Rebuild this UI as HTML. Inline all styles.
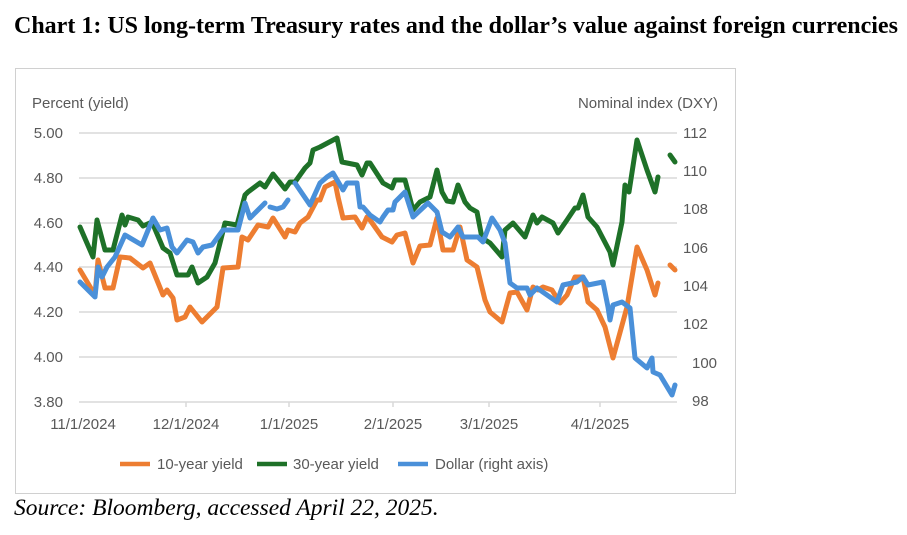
<!DOCTYPE html>
<html><head><meta charset="utf-8"><style>
body{margin:0;background:#fff;width:907px;height:535px;overflow:hidden;position:relative}
.t{position:absolute;left:14px;top:13px;font:bold 24px "Liberation Serif",serif;color:#000;white-space:nowrap}
.s{position:absolute;left:14px;top:495px;font:italic 23.5px "Liberation Serif",serif;color:#000;white-space:nowrap}
.box{position:absolute;left:15px;top:68px;width:719px;height:424px;border:1px solid #d0d0d0}
svg{position:absolute;left:0;top:0}
</style></head><body>
<div class="t">Chart 1: US long-term Treasury rates and the dollar’s value against foreign currencies</div>
<div class="box"></div>
<svg width="907" height="535" font-family="Liberation Sans, sans-serif" font-size="15" fill="#595959">
<g stroke="#d9d9d9" stroke-width="1.5">
<line x1="79" x2="677" y1="133" y2="133"/><line x1="79" x2="677" y1="178" y2="178"/><line x1="79" x2="677" y1="223" y2="223"/><line x1="79" x2="677" y1="267" y2="267"/><line x1="79" x2="677" y1="312" y2="312"/><line x1="79" x2="677" y1="357" y2="357"/><line x1="79" x2="677" y1="402" y2="402"/>
<line x1="186" x2="186" y1="402" y2="407"/><line x1="289" x2="289" y1="402" y2="407"/><line x1="393" x2="393" y1="402" y2="407"/><line x1="489" x2="489" y1="402" y2="407"/><line x1="600" x2="600" y1="402" y2="407"/>
</g>
<text x="32" y="108">Percent (yield)</text>
<text x="718" y="108" text-anchor="end">Nominal index (DXY)</text>
<g text-anchor="end"><text x="63" y="138">5.00</text><text x="63" y="183">4.80</text><text x="63" y="228">4.60</text><text x="63" y="272">4.40</text><text x="63" y="317">4.20</text><text x="63" y="362">4.00</text><text x="63" y="407">3.80</text></g>
<g><text x="683" y="138">112</text><text x="683" y="176">110</text><text x="683" y="214">108</text><text x="683" y="253">106</text><text x="683" y="291">104</text><text x="683" y="329">102</text><text x="692" y="368">100</text><text x="692" y="406">98</text></g>
<g text-anchor="middle"><text x="83" y="429">11/1/2024</text><text x="186" y="429">12/1/2024</text><text x="289" y="429">1/1/2025</text><text x="393" y="429">2/1/2025</text><text x="489" y="429">3/1/2025</text><text x="600" y="429">4/1/2025</text></g>
<g fill="none" stroke-width="5" stroke-linejoin="round" stroke-linecap="round">
<polyline stroke="#ed7d31" points="80,270 95,295 98,260 105,288 113,288 120,257 130,258 143,268 150,263 163,295 167,290 173,298 177,320 185,317 190,307 202,322 217,307 223,268 238,267 242,237 248,240 258,225 268,227 273,218 285,237 288,230 295,232 300,223 308,217 317,200 320,200 325,187 335,182 338,197 343,218 355,217 362,228 367,217 370,220 382,237 392,242 397,235 405,233 413,263 420,246 430,245 437,218 443,250 453,250 460,227 467,260 477,267 485,300 490,312 502,322 510,293 517,292 527,310 533,287 538,290 543,287 552,290 560,303 567,295 575,277 583,277 588,302 597,310 605,327 613,358 627,307 637,247 647,270 655,295 658,283"/>
<polyline stroke="#ed7d31" points="670,265 675,270"/>
<polyline stroke="#1e7128" points="80,227 93,257 97,220 105,250 113,250 122,215 125,225 128,217 138,220 143,226 152,222 163,248 170,253 177,275 188,275 192,267 198,283 207,277 215,263 225,223 237,225 245,195 248,192 260,183 265,187 273,174 285,189 290,182 295,182 305,168 310,163 313,150 320,147 337,138 342,162 357,165 362,175 367,163 370,163 383,183 392,188 395,180 405,180 413,210 420,202 430,197 437,170 442,192 447,201 453,202 458,185 465,202 470,208 477,212 482,238 490,243 502,257 505,230 513,223 525,237 533,215 537,223 542,217 553,223 558,233 567,220 575,208 578,208 583,195 588,217 597,227 610,252 613,265 622,222 625,185 629,192 637,140 647,170 655,192 658,177"/>
<polyline stroke="#1e7128" points="670,155 675,162"/>
<polyline stroke="#4a90d9" points="80,282 95,297 98,267 102,277 107,267 115,257 125,235 142,245 153,218 160,230 167,228 172,247 177,253 187,240 193,242 198,253 203,247 212,245 223,230 238,230 245,203 250,218 265,203"/>
<polyline stroke="#4a90d9" points="270,207 277,209 283,207 288,200"/>
<polyline stroke="#4a90d9" points="295,183 310,205 320,183 327,177 333,173 343,190 347,183 357,183 360,207 363,207 370,215 380,222 383,217 388,210 393,210 395,202 405,192 413,217 428,203 437,212 442,232 450,237 458,227 463,237 478,237 483,242 492,218 500,230 505,243 510,283 517,288 527,288 530,295 537,288 557,302 563,285 577,282 583,277 588,285 603,282 608,307 610,320 613,305 622,302 630,308 635,358 647,368 652,358 653,372 660,375 672,395 675,385"/>
</g>
<g stroke-width="4.5"><line x1="120" x2="150" y1="464" y2="464" stroke="#ed7d31"/><line x1="257" x2="287" y1="464" y2="464" stroke="#1e7128"/><line x1="398" x2="428" y1="464" y2="464" stroke="#4a90d9"/></g>
<text x="157" y="469">10-year yield</text><text x="293" y="469">30-year yield</text><text x="435" y="469">Dollar (right axis)</text>
</svg>
<div class="s">Source: Bloomberg, accessed April 22, 2025.</div>
</body></html>
